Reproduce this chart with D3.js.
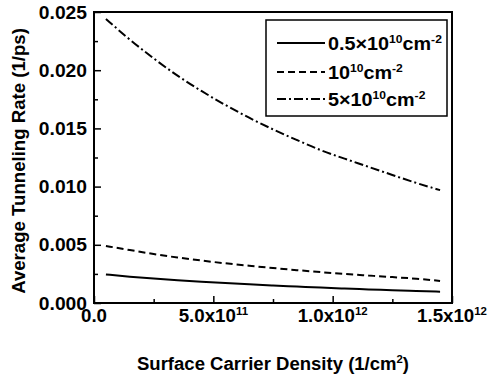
<!DOCTYPE html>
<html><head><meta charset="utf-8">
<script src="https://cdn.jsdelivr.net/npm/d3@7"></script>
<style>
html,body{margin:0;padding:0;background:#fff;}
svg text{font-family:"Liberation Sans",Arial,sans-serif;fill:#000;font-weight:bold;}
</style></head>
<body><svg id="c" width="488" height="374"></svg>
<script>
// Data (x in units of 1e12 cm^-2)
const density = [0.05,0.15,0.25,0.35,0.45,0.55,0.65,0.75,0.85,0.95,1.05,1.15,1.25,1.35,1.45];
const rateLow  = [0.00245,0.00226,0.0021,0.00196,0.00183,0.00171,0.0016,0.0015,0.00141,0.00132,0.00124,0.00117,0.0011,0.00103,0.00097];
const rateMid  = [0.0049,0.00455,0.0042,0.0039,0.00365,0.0034,0.0032,0.0030,0.00282,0.00265,0.0025,0.00236,0.00222,0.0021,0.0019];
const rateHigh = [0.0244,0.0226,0.0210,0.0195,0.0182,0.0170,0.0159,0.0149,0.0140,0.0131,0.0124,0.0117,0.0110,0.0103,0.0097];
const xTicks = [0, 0.5, 1.0, 1.5];
const xTickLabels = [["0.0",""],["5.0x10","11"],["1.0x10","12"],["1.5x10","12"]];
const yTicks = [0, 0.005, 0.010, 0.015, 0.020, 0.025];
const yTickLabels = ["0.000","0.005","0.010","0.015","0.020","0.025"];
const legendLabels = [
  [["0.5×10",0],["10",-7],["cm",7],["-2",-7]],
  [["10",0],["10",-7],["cm",7],["-2",-7]],
  [["5×10",0],["10",-7],["cm",7],["-2",-7]]
];

const svg = d3.select("#c");
const L=94, R=452, T=12, B=303;
const x = d3.scaleLinear().domain([0,1.5]).range([L,R]);
const y = d3.scaleLinear().domain([0,0.025]).range([B,T]);

function txt(parent, tx, ty, sx, size, anchor, rot) {
  const g = parent.append("g").attr("transform",
    `translate(${tx},${ty})` + (rot ? ` rotate(${rot})` : "") + ` scale(${sx},1)`);
  return g.append("text").attr("x",0).attr("y",0).attr("font-size",size)
    .attr("text-anchor",anchor||"start");
}

const series = [
  {vals: rateLow, dash: null},
  {vals: rateMid, dash: "7,4"},
  {vals: rateHigh, dash: "9,3,2,3"}
];
const line = d3.line().x((d,i)=>x(density[i])).y(d=>y(d)).curve(d3.curveBasis);
series.forEach(s=>{
  svg.append("path").attr("d", line(s.vals)).attr("fill","none")
    .attr("stroke","#000").attr("stroke-width",2)
    .attr("stroke-dasharray", s.dash);
});

// axes (ticks inside)
const xAxis = d3.axisBottom(x).tickValues(d3.range(0,1.51,0.25)).tickSize(-4).tickFormat("");
const gx = svg.append("g").attr("transform",`translate(0,${B})`).call(xAxis);
gx.selectAll(".tick line").attr("stroke","#000").attr("stroke-width",1.5)
  .attr("y2", (d)=> (Math.abs(d*2-Math.round(d*2))<1e-6) ? -7 : -4);
gx.select(".domain").remove();
const yAxis = d3.axisLeft(y).tickValues(d3.range(0,0.02501,0.0025)).tickSize(-4).tickFormat("");
const gy = svg.append("g").attr("transform",`translate(${L},0)`).call(yAxis);
gy.selectAll(".tick line").attr("stroke","#000").attr("stroke-width",1.5)
  .attr("x2", (d)=> (Math.abs(d/0.005-Math.round(d/0.005))<1e-6) ? 7 : 4);
gy.select(".domain").remove();

// frame
svg.append("rect").attr("x",L).attr("y",T).attr("width",R-L).attr("height",B-T)
  .attr("fill","none").attr("stroke","#000").attr("stroke-width",2);

// y tick labels
yTicks.forEach((v,i)=>{
  txt(svg, L-7, y(v)+6.5, 1.07, 18, "end").text(yTickLabels[i]);
});
// x tick labels
xTicks.forEach((v,i)=>{
  const t = txt(svg, x(v), B+19, 1.04, 18, "middle");
  t.append("tspan").text(xTickLabels[i][0]);
  if (xTickLabels[i][1]) t.append("tspan").attr("dy",-7).attr("font-size",11).text(xTickLabels[i][1]);
});

// axis titles
const xt = txt(svg, (L+R)/2, 370, 1.03, 18, "middle");
xt.append("tspan").text("Surface Carrier Density (1/cm");
xt.append("tspan").attr("dy",-7).attr("font-size",11).text("2");
xt.append("tspan").attr("dy",7).text(")");
txt(svg, 25, 161, 1.035, 18, "middle", -90).text("Average Tunneling Rate (1/ps)");

// legend
const lg = svg.append("g");
lg.append("rect").attr("x",266).attr("y",20).attr("width",181).attr("height",96)
  .attr("fill","#fff").attr("stroke","#000").attr("stroke-width",1.5);
const rowsY = [43,72,99];
series.forEach((s,i)=>{
  lg.append("line").attr("x1",277).attr("x2",325).attr("y1",rowsY[i]).attr("y2",rowsY[i])
    .attr("stroke","#000").attr("stroke-width",2).attr("stroke-dasharray",s.dash);
  const t = txt(lg, 328, rowsY[i]+6.5, 1.1, 18, "start");
  legendLabels[i].forEach((p,j)=>{
    const sp = t.append("tspan").attr("dy",p[1]).text(p[0]);
    if (j%2===1) sp.attr("font-size",11);
  });
});
</script></body></html>
